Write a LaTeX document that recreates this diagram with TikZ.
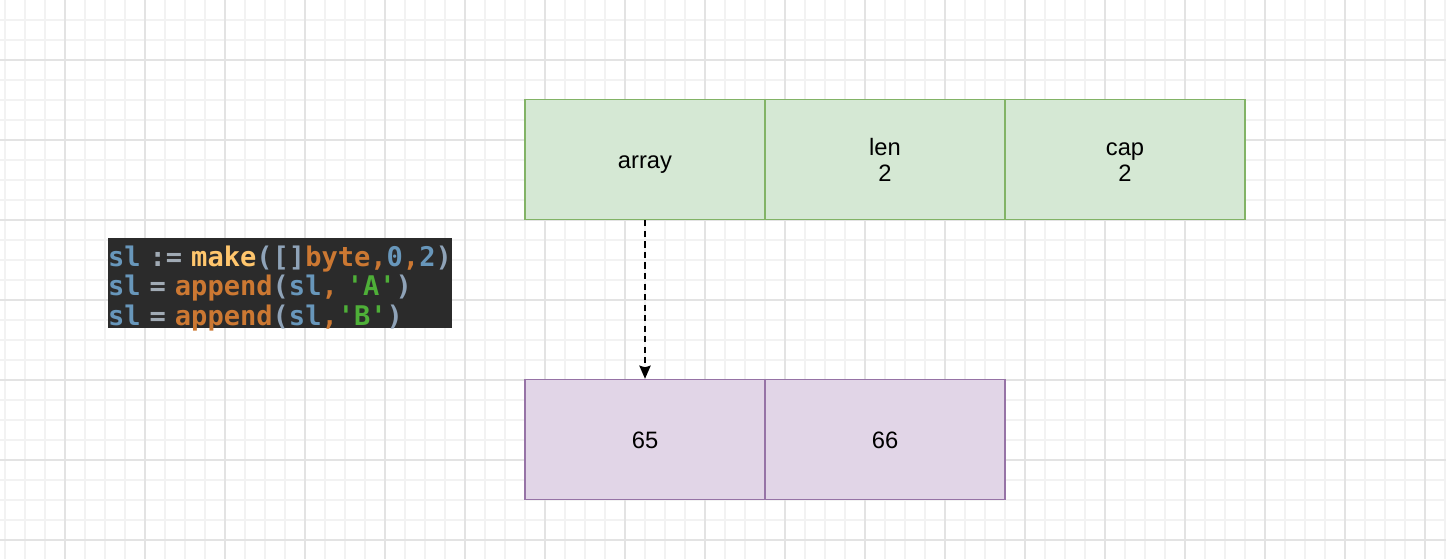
\documentclass[tikz,border=0pt]{standalone}
\usepackage{fontspec}
\setmainfont{Liberation Sans}
\newfontfamily\codefont{DejaVu Sans Mono}
\usepackage{tikz}
\usetikzlibrary{arrows}
\usetikzlibrary{arrows.meta}
\usetikzlibrary{shapes}

\definecolor{gridminor}{HTML}{F2F2F2}
\definecolor{gridmajor}{HTML}{E3E3E3}
\definecolor{greenfill}{HTML}{D5E8D4}
\definecolor{greenline}{HTML}{82B366}
\definecolor{purplefill}{HTML}{E1D5E7}
\definecolor{purpleline}{HTML}{9673A6}
\definecolor{codebg}{HTML}{2B2B2B}
\definecolor{codeblue}{HTML}{6897BB}
\definecolor{codegray}{HTML}{A0AAB4}
\definecolor{codeparen}{HTML}{8FA3B8}
\definecolor{codeyellow}{HTML}{FFC66D}
\definecolor{codeorange}{HTML}{CC7832}
\definecolor{codegreen}{HTML}{4EAF38}

\newcommand\cellstrut{\rule[-2.8pt]{0pt}{15.8pt}}

\tikzset{
  field/.style={rectangle, draw=greenline, fill=greenfill, line width=0.9pt,
    minimum width=4.8cm, minimum height=2.4cm, align=center},
  cell/.style={rectangle, draw=purpleline, fill=purplefill, line width=0.9pt,
    minimum width=4.8cm, minimum height=2.4cm},
}

\begin{document}
\begin{tikzpicture}[>=stealth, x=0.02cm, y=-0.02cm, every node/.style={inner sep=0pt, font=\fontsize{13.5pt}{14.8pt}\selectfont}]
		\useasboundingbox (0,0) rectangle (1446,559);
		\fill[white] (0,0) rectangle (1446,559);
		%Grid
		\foreach \x in {5,25,...,1445}
			\draw[gridminor, line width=0.8pt] (\x,0) -- (\x,559);
		\foreach \y in {20,40,...,540}
			\draw[gridminor, line width=0.8pt] (0,\y) -- (1446,\y);
		\foreach \x in {65,145,...,1425}
			\draw[gridmajor, line width=1pt] (\x,0) -- (\x,559);
		\foreach \y in {60,140,...,540}
			\draw[gridmajor, line width=1pt] (0,\y) -- (1446,\y);
		%Code
		\fill[codebg] (108,238) rectangle (452,328);
		\node [text width=6.88cm, align=left,
			font=\codefont\bfseries\fontsize{15.4pt}{16.9pt}\selectfont] (code) at (280,288.5)
			{\textcolor{codeblue}{sl} \textcolor{codegray}{:=} \textcolor{codeyellow}{make}\textcolor{codeparen}{([]}\textcolor{codeorange}{byte,}\textcolor{codeblue}{0}\textcolor{codeorange}{,}\textcolor{codeblue}{2}\textcolor{codeparen}{)}\\
			\textcolor{codeblue}{sl} \textcolor{codegray}{=} \textcolor{codeorange}{append}\textcolor{codeparen}{(}\textcolor{codeblue}{sl}\textcolor{codeorange}{,} \textcolor{codegreen}{'A'}\textcolor{codeparen}{)}\\
			\textcolor{codeblue}{sl} \textcolor{codegray}{=} \textcolor{codeorange}{append}\textcolor{codeparen}{(}\textcolor{codeblue}{sl}\textcolor{codeorange}{,}\textcolor{codegreen}{'B'}\textcolor{codeparen}{)}};
		%Slice header
		\node [field] (array) at (645,159.5) {\cellstrut array};
		\node [field] (len) at (885,159.5) {len\\2};
		\node [field] (cap) at (1125,159.5) {\vphantom{l}cap\\2};
		%Backing array
		\node [cell] (b65) at (645,439.5) {\cellstrut 65};
		\node [cell] (b66) at (885,439.5) {\cellstrut 66};
		\draw[-{Stealth[length=7.5pt,width=6.5pt,inset=1pt]}, line width=0.8pt, dash pattern=on 3.5pt off 2.5pt] (array) -- (b65);
\end{tikzpicture}
\end{document}
